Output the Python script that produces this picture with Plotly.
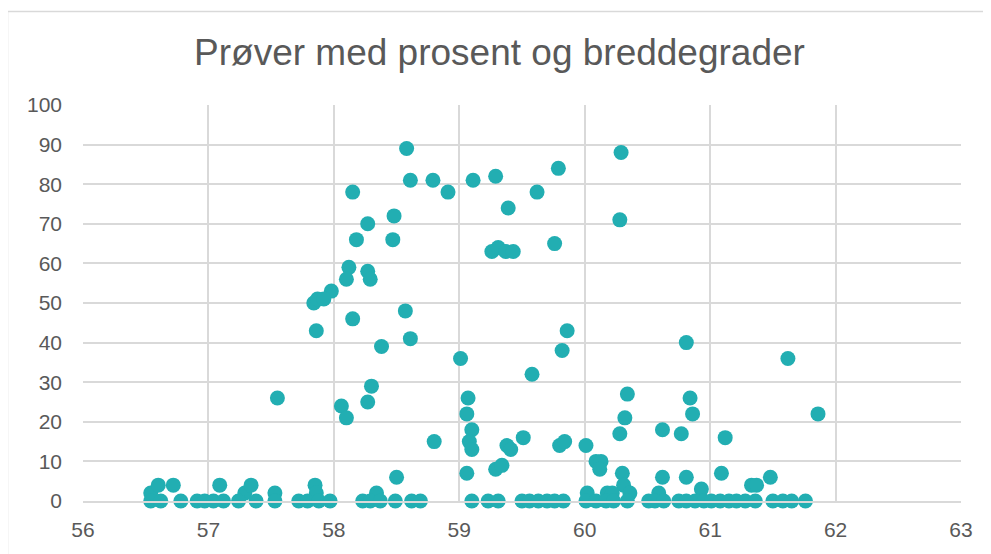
import plotly.graph_objs as go

# breddegrad (x) og prosent (y), lest av figuren
breddegrad = [
    58.58, 58.61, 58.79, 58.91, 59.11, 59.29, 59.79, 59.62, 59.39, 58.15,
    58.48, 58.27, 58.18, 58.47, 59.26, 59.31, 59.37, 59.43, 59.76, 58.12,
    58.27, 58.10, 58.29, 57.98, 57.84, 57.87, 57.92, 58.15, 57.86, 58.57,
    58.61, 58.38, 59.01, 59.86, 59.82, 59.58, 60.29, 60.28, 60.81, 61.62,
    57.55, 58.06, 58.10, 58.27, 58.30, 58.50, 58.80, 59.07, 59.06, 59.10,
    59.08, 59.10, 59.06, 59.29, 59.34, 59.38, 59.41, 59.51, 59.80, 59.84,
    60.01, 60.09, 60.13, 60.12, 60.34, 60.32, 60.28, 60.84, 60.86, 60.62,
    60.77, 61.12, 61.86, 60.30, 60.31, 60.36, 60.62, 60.81, 61.09, 60.93,
    60.59, 61.33, 61.37, 61.48,
    56.54, 56.60, 56.72, 57.09, 57.29, 57.34, 57.53, 57.85, 57.86, 58.34,
    60.02, 60.18, 60.22,
    56.54, 56.62, 56.78, 56.91, 56.97, 57.04, 57.12, 57.24, 57.38, 57.53,
    57.72, 57.79, 57.88, 57.97, 58.23, 58.29, 58.37, 58.49, 58.62, 58.69,
    59.10, 59.23, 59.31, 59.50, 59.56, 59.63, 59.70, 59.76, 59.83, 60.01,
    60.09, 60.17, 60.23, 60.34, 60.51, 60.56, 60.63, 60.75, 60.81, 60.88,
    60.95, 61.01, 61.08, 61.15, 61.21, 61.28, 61.36, 61.50, 61.58, 61.65,
    61.76,
]
prosent = [
    89, 81, 81, 78, 81, 82, 84, 78, 74, 78,
    72, 70, 66, 66, 63, 64, 63, 63, 65, 59,
    58, 56, 56, 53, 50, 51, 51, 46, 43, 48,
    41, 39, 36, 43, 38, 32, 88, 71, 40, 36,
    26, 24, 21, 25, 29, 6, 15, 26, 22, 18,
    15, 13, 7, 8, 9, 14, 13, 16, 14, 15,
    14, 10, 10, 8, 27, 21, 17, 26, 22, 18,
    17, 16, 22, 7, 4, 2, 6, 6, 7, 3,
    2, 4, 4, 6,
    2, 4, 4, 4, 2, 4, 2, 4, 2, 2,
    2, 2, 2,
    0, 0, 0, 0, 0, 0, 0, 0, 0, 0,
    0, 0, 0, 0, 0, 0, 0, 0, 0, 0,
    0, 0, 0, 0, 0, 0, 0, 0, 0, 0,
    0, 0, 0, 0, 0, 0, 0, 0, 0, 0,
    0, 0, 0, 0, 0, 0, 0, 0, 0, 0,
    0,
]

x_ticks = [56, 57, 58, 59, 60, 61, 62, 63]
y_ticks = [0, 10, 20, 30, 40, 50, 60, 70, 80, 90, 100]

grey = '#595959'
grid = '#D9D9D9'

trace = go.Scatter(
    x=breddegrad, y=prosent, mode='markers',
    marker=dict(color='#22AEB2', size=15),
    cliponaxis=False, hoverinfo='x+y',
)

# siden har 8px body-marg, så figuren er 8px mindre
layout = go.Layout(
    width=983, height=546,
    margin=dict(l=75, r=30, t=97, b=53),
    paper_bgcolor='white', plot_bgcolor='white',
    font=dict(family='Liberation Sans, Arial, sans-serif', color=grey, size=21),
    title=dict(text='Prøver med prosent og breddegrader', x=0.5, xanchor='center',
               y=0.92, yanchor='middle', font=dict(size=37, color=grey)),
    showlegend=False,
    xaxis=dict(range=[56, 63], tickvals=x_ticks, showgrid=True, gridcolor=grid,
               gridwidth=1.5, zeroline=False, showline=True, linecolor=grid,
               linewidth=1.5, ticks='', ticklabelstandoff=9),
    yaxis=dict(range=[0, 100], tickvals=y_ticks, showgrid=True, gridcolor=grid,
               gridwidth=1.5, zeroline=False, showline=False, ticks='',
               ticklabelstandoff=20),
    shapes=[dict(type='rect', xref='paper', yref='paper',
                 x0=-0.086, x1=1.2, y0=-0.3, y1=1.236,
                 line=dict(color=grid, width=1.5), layer='below')],
)

fig = go.Figure(data=[trace], layout=layout)
fig.write_html('out.html')
